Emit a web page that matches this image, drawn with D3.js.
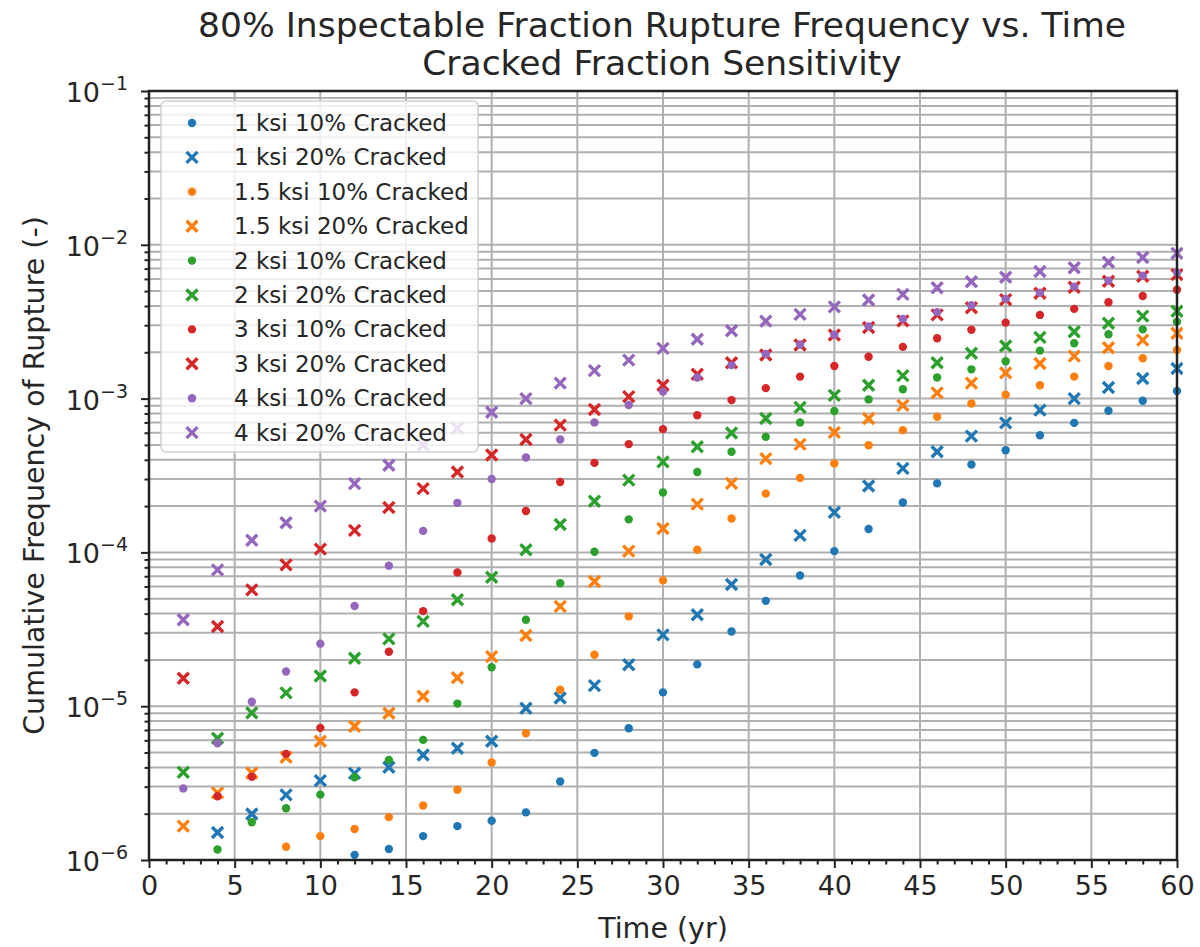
<!DOCTYPE html>
<html>
<head>
<meta charset="utf-8">
<script src="https://cdn.jsdelivr.net/npm/d3@7"></script>
<style>
  body { margin: 0; background: #fff; }
  svg { display: block; font-family: "DejaVu Sans", sans-serif; }
</style>
</head>
<body>
<div id="chart"></div>
<script>
// time points (yr)
const years = [2, 4, 6, 8, 10, 12, 14, 16, 18, 20, 22, 24, 26, 28, 30,
               32, 34, 36, 38, 40, 42, 44, 46, 48, 50, 52, 54, 56, 58, 60];

// cumulative rupture frequency, null = below 1e-6 (not shown)
const ksi1_10 = [null, null, null, null, null, 1.08e-6, 1.18e-6, 1.43e-6, 1.66e-6, 1.80e-6,
  2.04e-6, 3.24e-6, 4.97e-6, 7.19e-6, 1.23e-5, 1.87e-5, 3.06e-5, 4.84e-5, 7.08e-5, 1.02e-4,
  1.42e-4, 2.11e-4, 2.81e-4, 3.73e-4, 4.62e-4, 5.78e-4, 6.95e-4, 8.33e-4, 9.68e-4, 1.12e-3];
const ksi1_20 = [null, 1.51e-6, 1.99e-6, 2.65e-6, 3.28e-6, 3.66e-6, 4.01e-6, 4.82e-6, 5.33e-6, 5.92e-6,
  9.7e-6, 1.13e-5, 1.36e-5, 1.86e-5, 2.91e-5, 3.93e-5, 6.19e-5, 9.0e-5, 1.29e-4, 1.82e-4,
  2.7e-4, 3.52e-4, 4.51e-4, 5.7e-4, 6.95e-4, 8.42e-4, 1.0e-3, 1.18e-3, 1.35e-3, 1.57e-3];
const ksi15_10 = [null, null, null, 1.22e-6, 1.43e-6, 1.59e-6, 1.90e-6, 2.26e-6, 2.86e-6, 4.30e-6,
  6.67e-6, 1.28e-5, 2.16e-5, 3.84e-5, 6.58e-5, 1.04e-4, 1.66e-4, 2.41e-4, 3.05e-4, 3.79e-4,
  4.98e-4, 6.24e-4, 7.62e-4, 9.3e-4, 1.06e-3, 1.22e-3, 1.39e-3, 1.63e-3, 1.83e-3, 2.07e-3];
const ksi15_20 = [1.66e-6, 2.73e-6, 3.68e-6, 4.66e-6, 5.92e-6, 7.41e-6, 9.0e-6, 1.16e-5, 1.53e-5, 2.1e-5,
  2.88e-5, 4.46e-5, 6.47e-5, 1.02e-4, 1.43e-4, 2.06e-4, 2.81e-4, 4.07e-4, 5.04e-4, 6.03e-4,
  7.43e-4, 9.04e-4, 1.09e-3, 1.26e-3, 1.47e-3, 1.69e-3, 1.89e-3, 2.14e-3, 2.4e-3, 2.66e-3];
const ksi2_10 = [null, 1.17e-6, 1.76e-6, 2.17e-6, 2.66e-6, 3.45e-6, 4.47e-6, 6.04e-6, 1.04e-5, 1.79e-5,
  3.65e-5, 6.3e-5, 1.01e-4, 1.64e-4, 2.45e-4, 3.33e-4, 4.51e-4, 5.64e-4, 7.0e-4, 8.3e-4,
  9.88e-4, 1.15e-3, 1.37e-3, 1.55e-3, 1.75e-3, 2.05e-3, 2.29e-3, 2.62e-3, 2.82e-3, 3.16e-3];
const ksi2_20 = [3.72e-6, 6.19e-6, 9.05e-6, 1.22e-5, 1.57e-5, 2.05e-5, 2.74e-5, 3.56e-5, 4.92e-5, 6.9e-5,
  1.04e-4, 1.52e-4, 2.15e-4, 2.95e-4, 3.88e-4, 4.86e-4, 5.98e-4, 7.43e-4, 8.77e-4, 1.05e-3,
  1.22e-3, 1.41e-3, 1.71e-3, 1.97e-3, 2.2e-3, 2.5e-3, 2.72e-3, 3.09e-3, 3.44e-3, 3.7e-3];
const ksi3_10 = [null, 2.6e-6, 3.48e-6, 4.9e-6, 7.23e-6, 1.23e-5, 2.26e-5, 4.15e-5, 7.41e-5, 1.23e-4,
  1.86e-4, 2.87e-4, 3.82e-4, 5.06e-4, 6.33e-4, 7.8e-4, 9.78e-4, 1.17e-3, 1.39e-3, 1.63e-3,
  1.87e-3, 2.17e-3, 2.47e-3, 2.8e-3, 3.12e-3, 3.5e-3, 3.83e-3, 4.23e-3, 4.65e-3, 5.1e-3];
const ksi3_20 = [1.52e-5, 3.3e-5, 5.71e-5, 8.3e-5, 1.05e-4, 1.39e-4, 1.96e-4, 2.6e-4, 3.33e-4, 4.3e-4,
  5.42e-4, 6.72e-4, 8.5e-4, 1.03e-3, 1.22e-3, 1.44e-3, 1.71e-3, 1.92e-3, 2.23e-3, 2.59e-3,
  2.9e-3, 3.2e-3, 3.5e-3, 3.9e-3, 4.4e-3, 4.84e-3, 5.3e-3, 5.8e-3, 6.25e-3, 6.4e-3];
const ksi4_10 = [2.92e-6, 5.74e-6, 1.07e-5, 1.68e-5, 2.55e-5, 4.48e-5, 8.2e-5, 1.38e-4, 2.1e-4, 3.0e-4,
  4.14e-4, 5.42e-4, 7.0e-4, 9.08e-4, 1.11e-3, 1.37e-3, 1.65e-3, 1.95e-3, 2.25e-3, 2.6e-3,
  2.95e-3, 3.3e-3, 3.65e-3, 4.05e-3, 4.45e-3, 4.88e-3, 5.35e-3, 5.85e-3, 6.3e-3, 6.6e-3];
const ksi4_20 = [3.65e-5, 7.7e-5, 1.2e-4, 1.56e-4, 2.0e-4, 2.8e-4, 3.69e-4, 4.97e-4, 6.4e-4, 8.15e-4,
  1.0e-3, 1.26e-3, 1.52e-3, 1.78e-3, 2.12e-3, 2.43e-3, 2.76e-3, 3.19e-3, 3.53e-3, 3.95e-3,
  4.38e-3, 4.76e-3, 5.26e-3, 5.75e-3, 6.15e-3, 6.7e-3, 7.1e-3, 7.7e-3, 8.26e-3, 8.8e-3];

const seriesNames = ["1 ksi 10% Cracked", "1 ksi 20% Cracked", "1.5 ksi 10% Cracked", "1.5 ksi 20% Cracked",
  "2 ksi 10% Cracked", "2 ksi 20% Cracked", "3 ksi 10% Cracked", "3 ksi 20% Cracked",
  "4 ksi 10% Cracked", "4 ksi 20% Cracked"];
const seriesValues = [ksi1_10, ksi1_20, ksi15_10, ksi15_20, ksi2_10, ksi2_20, ksi3_10, ksi3_20, ksi4_10, ksi4_20];
const seriesColors = ["#1f77b4", "#1f77b4", "#ff7f0e", "#ff7f0e", "#2ca02c", "#2ca02c",
  "#d62728", "#d62728", "#9467bd", "#9467bd"];
const seriesMarkers = ["dot", "x", "dot", "x", "dot", "x", "dot", "x", "dot", "x"];

const xTicks = [0, 5, 10, 15, 20, 25, 30, 35, 40, 45, 50, 55, 60];
const yTickExps = [-6, -5, -4, -3, -2, -1];

const W = 1200, H = 947;
const margin = { left: 149, right: 23, top: 91, bottom: 87 };

const svg = d3.select("#chart").append("svg")
    .attr("width", W)
    .attr("height", H);

const x = d3.scaleLinear().domain([0, 60]).range([margin.left, W - margin.right]);
const y = d3.scaleLog().domain([1e-6, 1e-1]).range([H - margin.bottom, margin.top]);

const gridColor = "#b0b0b0";

// minor y values (2..9 per decade)
const yMinor = [];
for (let e = -6; e < -1; e++) {
    for (let m = 2; m <= 9; m++) yMinor.push(m * Math.pow(10, e));
}

// grid
const grid = svg.append("g").attr("class", "grid");
grid.selectAll(".hgrid")
    .data(yMinor.concat(yTickExps.map(e => Math.pow(10, e))))
    .enter().append("line")
    .attr("x1", x(0)).attr("x2", x(60))
    .attr("y1", d => y(d)).attr("y2", d => y(d))
    .attr("stroke", gridColor)
    .attr("stroke-width", 2);
grid.selectAll(".vgrid")
    .data(xTicks)
    .enter().append("line")
    .attr("x1", d => x(d)).attr("x2", d => x(d))
    .attr("y1", y(1e-1)).attr("y2", y(1e-6))
    .attr("stroke", gridColor)
    .attr("stroke-width", 2);

// points
const plot = svg.append("g")
    .attr("clip-path", "url(#clip)");
svg.append("clipPath").attr("id", "clip")
    .append("rect")
    .attr("x", x(0)).attr("y", y(1e-1) - 6)
    .attr("width", x(60) - x(0) + 6).attr("height", y(1e-6) - y(1e-1) + 6);

seriesValues.forEach(function (vals, i) {
    const pts = years.map((t, j) => ({ t: t, v: vals[j] })).filter(d => d.v != null);
    const g = plot.append("g").attr("class", "series");
    if (seriesMarkers[i] === "dot") {
        g.selectAll("circle")
            .data(pts)
            .enter().append("circle")
            .attr("cx", d => x(d.t))
            .attr("cy", d => y(d.v))
            .attr("r", 4.2)
            .attr("fill", seriesColors[i]);
    } else {
        g.selectAll("path")
            .data(pts)
            .enter().append("path")
            .attr("d", d => {
                const cx = x(d.t), cy = y(d.v), s = 5.5;
                return "M" + (cx - s) + "," + (cy - s) + "L" + (cx + s) + "," + (cy + s) +
                    "M" + (cx - s) + "," + (cy + s) + "L" + (cx + s) + "," + (cy - s);
            })
            .attr("stroke", seriesColors[i])
            .attr("stroke-width", 3.4)
            .attr("fill", "none");
    }
});

// x axis
const xAxis = svg.append("g")
    .attr("transform", "translate(0," + y(1e-6) + ")")
    .call(d3.axisBottom(x).tickValues(xTicks).tickSize(8).tickPadding(8).tickFormat(d3.format("d")));
svg.append("g")
    .attr("transform", "translate(0," + y(1e-6) + ")")
    .call(d3.axisBottom(x).tickValues(d3.range(0, 61, 1).filter(d => d % 5 !== 0)).tickSize(4.5).tickFormat(""))
    .call(g => g.select(".domain").remove());

// y axis
const yAxis = svg.append("g")
    .attr("transform", "translate(" + x(0) + ",0)")
    .call(d3.axisLeft(y).tickValues(yTickExps.map(e => Math.pow(10, e))).tickSize(8).tickPadding(8).tickFormat(""));
svg.append("g")
    .attr("transform", "translate(" + x(0) + ",0)")
    .call(d3.axisLeft(y).tickValues(yMinor).tickSize(4.5).tickFormat(""))
    .call(g => g.select(".domain").remove());

svg.selectAll(".tick line").attr("stroke", "#222").attr("stroke-width", 2);
xAxis.selectAll(".tick text")
    .attr("font-size", 27)
    .attr("fill", "#262626")
    .attr("font-family", "DejaVu Sans");
svg.selectAll(".domain").attr("stroke", "none");

// y tick labels: 10^e
const yLab = svg.append("g");
yTickExps.forEach(function (e) {
    const t = yLab.append("text")
        .attr("x", x(0) - 21)
        .attr("y", y(Math.pow(10, e)) + 11)
        .attr("text-anchor", "end")
        .attr("font-size", 27)
        .attr("fill", "#262626");
    t.append("tspan").text("10");
    t.append("tspan").attr("dy", -12).attr("font-size", 19).text("\u2212" + (-e));
});

// frame
svg.append("rect")
    .attr("x", x(0)).attr("y", y(1e-1))
    .attr("width", x(60) - x(0)).attr("height", y(1e-6) - y(1e-1))
    .attr("fill", "none")
    .attr("stroke", "#222")
    .attr("stroke-width", 2.5);

// legend
const leg = svg.append("g").attr("class", "legend");
leg.append("rect")
    .attr("x", 161).attr("y", 101)
    .attr("width", 317).attr("height", 351)
    .attr("rx", 5)
    .attr("fill", "#fff").attr("fill-opacity", 0.8)
    .attr("stroke", "#d0d0d0").attr("stroke-width", 1.5);
seriesNames.forEach(function (name, i) {
    const cy = 123 + i * 34.4;
    if (seriesMarkers[i] === "dot") {
        leg.append("circle").attr("cx", 192).attr("cy", cy).attr("r", 4.2).attr("fill", seriesColors[i]);
    } else {
        const s = 5.5;
        leg.append("path")
            .attr("d", "M" + (192 - s) + "," + (cy - s) + "L" + (192 + s) + "," + (cy + s) +
                "M" + (192 - s) + "," + (cy + s) + "L" + (192 + s) + "," + (cy - s))
            .attr("stroke", seriesColors[i]).attr("stroke-width", 3.4);
    }
    leg.append("text")
        .attr("x", 234).attr("y", cy + 8)
        .attr("font-size", 23)
        .attr("fill", "#262626")
        .text(name);
});

// title
svg.append("text")
    .attr("x", 662).attr("y", 37)
    .attr("text-anchor", "middle")
    .attr("font-size", 34.5)
    .attr("fill", "#262626")
    .text("80% Inspectable Fraction Rupture Frequency vs. Time");
svg.append("text")
    .attr("x", 662).attr("y", 75)
    .attr("text-anchor", "middle")
    .attr("font-size", 34.5)
    .attr("fill", "#262626")
    .text("Cracked Fraction Sensitivity");

// axis labels
svg.append("text")
    .attr("x", 663).attr("y", 938)
    .attr("text-anchor", "middle")
    .attr("font-size", 28.5)
    .attr("fill", "#262626")
    .text("Time (yr)");
svg.append("text")
    .attr("transform", "translate(44," + ((y(1e-1) + y(1e-6)) / 2) + ") rotate(-90)")
    .attr("text-anchor", "middle")
    .attr("font-size", 28.5)
    .attr("fill", "#262626")
    .text("Cumulative Frequency of Rupture (-)");
</script>
</body>
</html>
